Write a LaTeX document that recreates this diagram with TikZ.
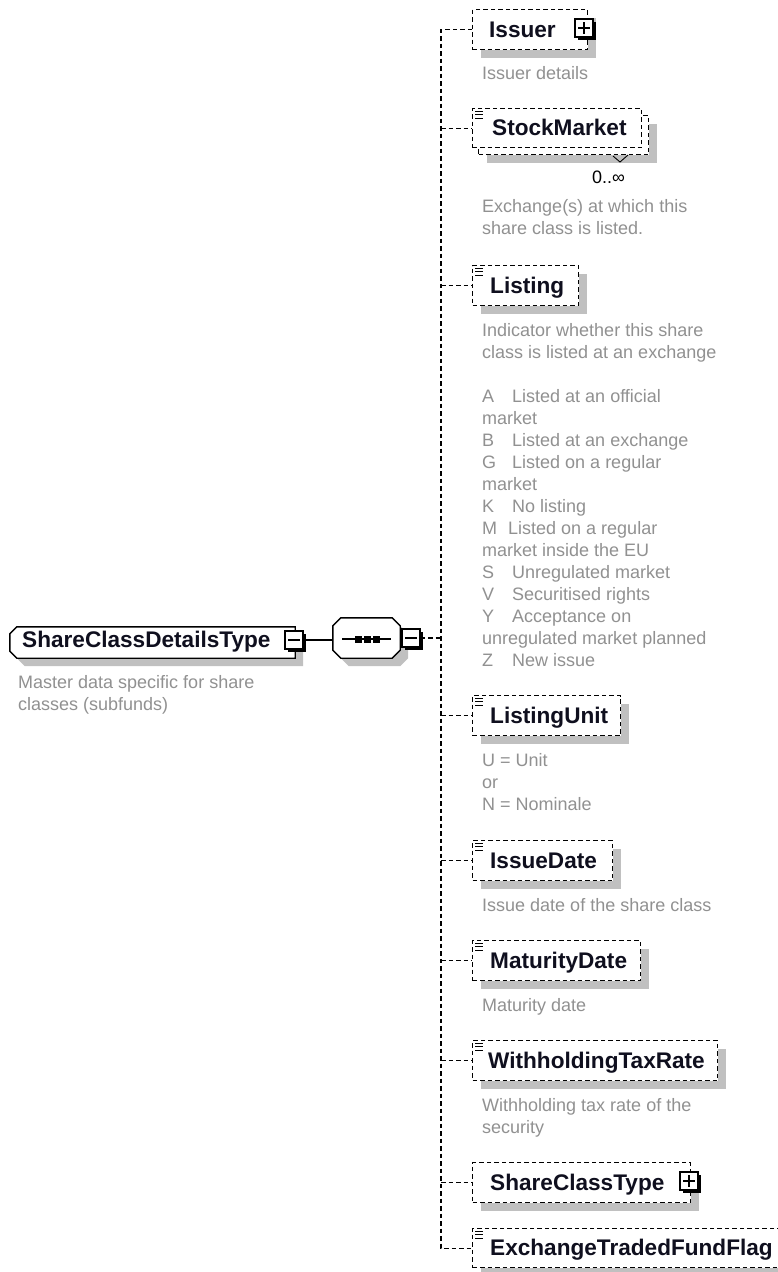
\documentclass[tikz,border=0pt]{standalone}
\usepackage{fontspec}
\setmainfont{Liberation Sans}
\usetikzlibrary{shadows}
\definecolor{shc}{RGB}{192,192,192}
\definecolor{annc}{RGB}{145,145,145}
\definecolor{lblc}{RGB}{15,15,30}
\begin{document}
\begin{tikzpicture}[x=1pt,y=-1pt,
  lbl/.style={font=\fontsize{22.6}{26}\selectfont\bfseries, text=lblc, anchor=base west, inner sep=0pt},
  ann/.style={font=\fontsize{18}{22}\selectfont, text=annc, anchor=north west, inner sep=0pt, align=left},
  dsh/.style={dash pattern=on 4.5pt off 3pt, line width=1.4pt},
  ebox/.style={draw, dsh, fill=white, minimum height=40pt, inner sep=0pt, anchor=north west,
     drop shadow={shadow xshift=8pt, shadow yshift=-8pt, opacity=1, fill=shc, draw=none}},
  ebox2/.style={draw, dsh, fill=white, minimum height=39pt, inner sep=0pt, anchor=north west},
  pmbox/.style={draw=black, line width=1.4pt, fill=white, minimum size=18pt, inner sep=0pt,
     drop shadow={shadow xshift=2.5pt, shadow yshift=-2.5pt, opacity=1, fill=black, draw=none}},
  pmline/.style={line width=1.4pt},
  solidc/.style={line width=1.4pt},
  gshadow/.style={fill=shc, draw=none}
]
\path[use as bounding box, clip] (0,0) rectangle (778,1272);
\fill[white] (0,0) rectangle (778,1272);

% ---------- main type box ----------
\node[minimum width=285pt, minimum height=31pt, inner sep=0pt] (main) at (152.5,642.5) {};
\fill[gshadow] ([shift={(15,8)}]main.north west) -- ([shift={(8,8)}]main.north east) -- ([shift={(8,8)}]main.south east)
   -- ([shift={(15,8)}]main.south west) -- ([shift={(8,1)}]main.south west) -- ([shift={(8,15)}]main.north west) -- cycle;
\draw[solidc, fill=white] ([shift={(7,0)}]main.north west) -- (main.north east) -- (main.south east)
   -- ([shift={(7,0)}]main.south west) -- ([shift={(0,-7)}]main.south west) -- ([shift={(0,7)}]main.north west) -- cycle;
\node[lbl] (mainT) at (22,647) {ShareClassDetailsType};
\node[pmbox] (mainpm) at (294,640) {};
\draw[pmline] ([shift={(4,0)}]mainpm.west) -- ([shift={(-4,0)}]mainpm.east);
\node[ann] (mainA) at (18,672.6) {\strut Master data specific for share\\classes (subfunds)};

% ---------- sequence compositor ----------
\node[minimum width=67pt, minimum height=40pt, inner sep=0pt] (seq) at (366.5,638) {};
\fill[gshadow] ([shift={(16,8)}]seq.north west) -- ([shift={(0,8)}]seq.north east) -- ([shift={(8,16)}]seq.north east)
   -- ([shift={(8,0)}]seq.south east) -- ([shift={(0,8)}]seq.south east) -- ([shift={(16,8)}]seq.south west)
   -- ([shift={(8,0)}]seq.south west) -- ([shift={(8,16)}]seq.north west) -- cycle;
\draw[solidc, fill=white] ([shift={(8,0)}]seq.north west) -- ([shift={(-8,0)}]seq.north east) -- ([shift={(0,8)}]seq.north east)
   -- ([shift={(0,-8)}]seq.south east) -- ([shift={(-8,0)}]seq.south east) -- ([shift={(8,0)}]seq.south west)
   -- ([shift={(0,-8)}]seq.south west) -- ([shift={(0,8)}]seq.north west) -- cycle;
\draw[line width=1.3pt] (342,639) -- (391,639);
\foreach \sx in {358,367,376} \fill (\sx-3.5,635.5) rectangle (\sx+3.5,642.5);
\node[pmbox] (seqpm) at (411,638) {};
\draw[pmline] ([shift={(4,0)}]seqpm.west) -- ([shift={(-4,0)}]seqpm.east);
\draw[solidc] (mainpm.east) -- (mainpm.east -| seq.west);

% ---------- child elements ----------
\node[ebox, minimum width=115pt] (issuer) at (472,9) {};
\node[lbl] (issuerT) at (489,37) {Issuer};
\node[pmbox] (issuerpm) at (584,28) {};
\draw[pmline] ([shift={(4,0)}]issuerpm.west) -- ([shift={(-4,0)}]issuerpm.east);
\draw[pmline] ([shift={(0,4)}]issuerpm.north) -- ([shift={(0,-4)}]issuerpm.south);
\node[ann] (issuerA) at (482,63.6) {\strut Issuer details};

\node[ebox, minimum width=170pt, minimum height=39pt] (stockB) at (478,115) {};
\node[ebox2, minimum width=169pt] (stock) at (472,108) {};
\node[lbl] (stockT) at (492,135) {StockMarket};
\draw[line width=0.9pt] (613,156) -- (620,162) -- (628,155);
\node[anchor=base west, inner sep=0pt, font=\fontsize{18}{22}\selectfont] (stockM) at (592,183) {0..∞};
\node[ann] (stockA) at (482,196.6) {\strut Exchange(s) at which this\\share class is listed.};

\node[ebox, minimum width=106pt] (listing) at (472,265) {};
\node[lbl] (listingT) at (490,293) {Listing};
\node[ann] (listingA) at (482,320.6) {\strut Indicator whether this share\\class is listed at an exchange\\\strut\\%
\makebox[30pt][l]{A}Listed at an official\\market\\%
\makebox[30pt][l]{B}Listed at an exchange\\%
\makebox[30pt][l]{G}Listed on a regular\\market\\%
\makebox[30pt][l]{K}No listing\\%
\makebox[26pt][l]{M}Listed on a regular\\market inside the EU\\%
\makebox[30pt][l]{S}Unregulated market\\%
\makebox[30pt][l]{V}Securitised rights\\%
\makebox[30pt][l]{Y}Acceptance on\\unregulated market planned\\%
\makebox[30pt][l]{Z}New issue};

\node[ebox, minimum width=148pt] (lunit) at (472,695) {};
\node[lbl] (lunitT) at (490,723) {ListingUnit};
\node[ann] (lunitA) at (482,750.6) {\strut U = Unit\\or\\N = Nominale};

\node[ebox, minimum width=140pt] (idate) at (472,840) {};
\node[lbl] (idateT) at (490,868) {IssueDate};
\node[ann] (idateA) at (482,895.6) {\strut Issue date of the share class};

\node[ebox, minimum width=168pt] (mdate) at (472,940) {};
\node[lbl] (mdateT) at (490,968) {MaturityDate};
\node[ann] (mdateA) at (482,995.6) {\strut Maturity date};

\node[ebox, minimum width=245pt] (wtax) at (472,1040) {};
\node[lbl] (wtaxT) at (488,1068) {WithholdingTaxRate};
\node[ann] (wtaxA) at (482,1095.6) {\strut Withholding tax rate of the\\security};

\node[ebox, minimum width=218pt] (sctype) at (472,1162) {};
\node[lbl] (sctypeT) at (490,1190) {ShareClassType};
\node[pmbox] (sctypepm) at (689,1181) {};
\draw[pmline] ([shift={(4,0)}]sctypepm.west) -- ([shift={(-4,0)}]sctypepm.east);
\draw[pmline] ([shift={(0,4)}]sctypepm.north) -- ([shift={(0,-4)}]sctypepm.south);

\node[ebox, minimum width=330pt, minimum height=39pt] (etf) at (472,1228) {};
\node[lbl] (etfT) at (490,1255) {ExchangeTradedFundFlag};

% list icons
\foreach \b in {stock,listing,lunit,idate,mdate,wtax,etf}{
  \foreach \k in {3,6.5,10}
    \draw[line width=1pt] ([shift={(3,\k)}]\b.north west) -- ([shift={(11,\k)}]\b.north west);
}

% ---------- connectors ----------
\coordinate (bus) at (441,639);
\draw[dsh] (issuer.west) -- (issuer.west -| bus) -- (etf.west -| bus) -- (etf.west);
\draw[dsh] (seqpm.east) -- (seqpm.east -| bus);
\foreach \b in {stock,listing,lunit,idate,mdate,wtax,sctype}
  \draw[dsh] (\b.west -| bus) -- (\b.west);
\end{tikzpicture}
\end{document}
